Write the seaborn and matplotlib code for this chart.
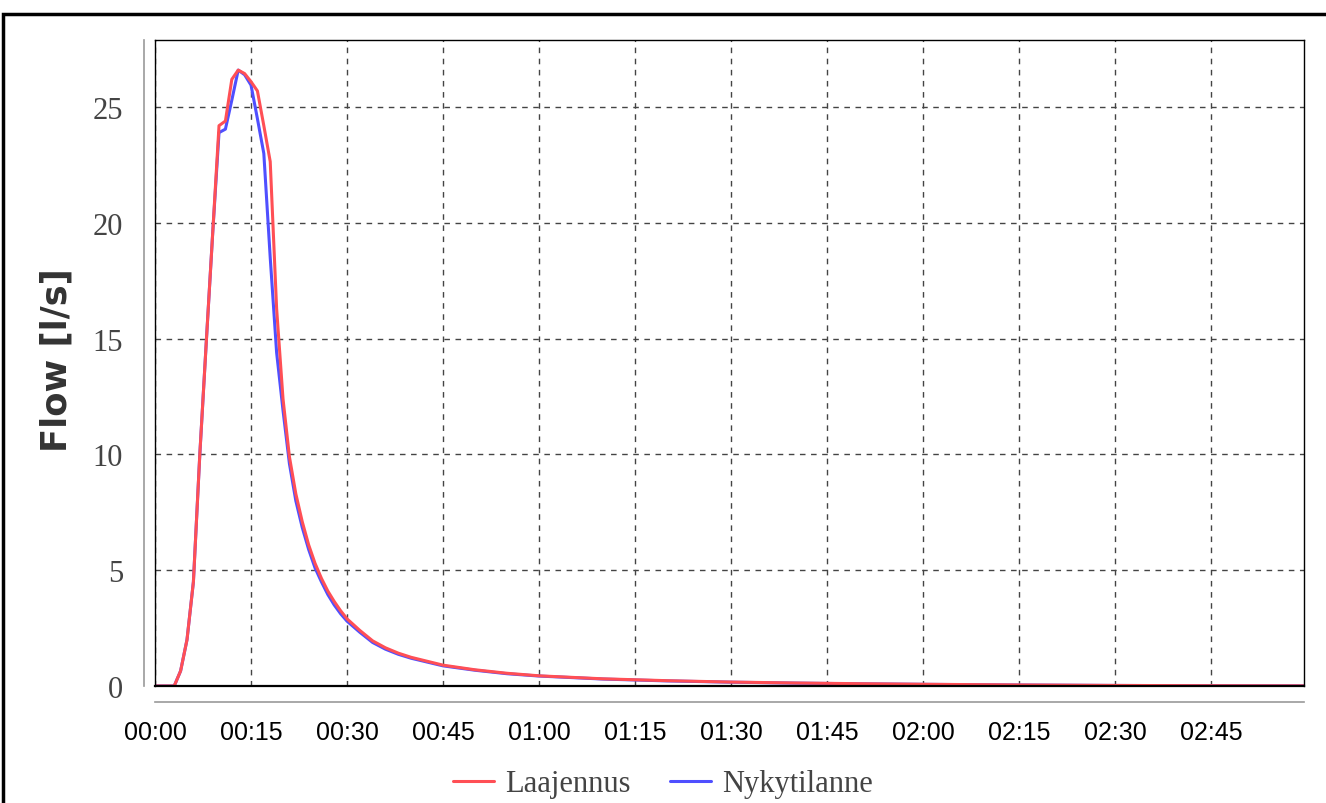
import matplotlib
matplotlib.use("Agg")
import matplotlib.pyplot as plt
from matplotlib.lines import Line2D
from matplotlib.patches import Rectangle
import pandas as pd
import seaborn as sns

# ---------------- DATOS ---------------- #
minutes = [0, 1, 2, 3, 4, 5, 6, 7, 8, 9, 10, 11, 12, 13, 14, 15, 16, 17, 18, 19,
           20, 21, 22, 23, 24, 25, 26, 27, 28, 29, 30, 32, 34, 36, 38, 40, 45, 50,
           55, 60, 70, 80, 90, 100, 110, 120, 135, 150, 165, 180]
laajennus = [0, 0, 0, 0, 0.65, 2.0, 4.5, 10.0, 14.8, 19.5, 24.2, 24.4, 26.2, 26.6,
             26.45, 26.1, 25.7, 24.2, 22.65, 16.3, 12.4, 9.9, 8.3, 7.1, 6.1, 5.3,
             4.65, 4.1, 3.65, 3.25, 2.9, 2.4, 1.95, 1.65, 1.42, 1.24, 0.9, 0.7,
             0.55, 0.44, 0.31, 0.23, 0.17, 0.13, 0.1, 0.075, 0.045, 0.025, 0.012, 0.005]
nykytilanne = [0, 0, 0, 0, 0.65, 2.0, 4.5, 10.0, 14.8, 19.5, 23.9, 24.05, 25.3, 26.6,
               26.4, 25.95, 24.5, 23.0, 18.5, 14.4, 11.9, 9.6, 8.0, 6.85, 5.9, 5.1,
               4.5, 3.95, 3.5, 3.12, 2.8, 2.32, 1.88, 1.59, 1.37, 1.2, 0.87, 0.68,
               0.53, 0.43, 0.3, 0.22, 0.165, 0.125, 0.095, 0.072, 0.043, 0.024, 0.011, 0.005]

x_ticks = [0, 15, 30, 45, 60, 75, 90, 105, 120, 135, 150, 165]
x_labels = ["00:00", "00:15", "00:30", "00:45", "01:00", "01:15", "01:30",
            "01:45", "02:00", "02:15", "02:30", "02:45"]
y_ticks = [0, 5, 10, 15, 20, 25]

series_names = ["Laajennus", "Nykytilanne"]
colors = {"Laajennus": "#ff4f55", "Nykytilanne": "#4f4fff"}

df = pd.concat([
    pd.DataFrame({"t": minutes, "flow": nykytilanne, "serie": "Nykytilanne"}),
    pd.DataFrame({"t": minutes, "flow": laajennus, "serie": "Laajennus"}),
])

# ---------------- FIGURA ---------------- #
sns.set_style("white")
fig = plt.figure(figsize=(13.26, 8.04), dpi=100)
pos = [155 / 1326, 1 - 687 / 804, (1304 - 155) / 1326, (687 - 41) / 804]
ax = fig.add_axes(pos)

sns.lineplot(data=df, x="t", y="flow", hue="serie", palette=colors,
             hue_order=["Nykytilanne", "Laajennus"], linewidth=2.2,
             ax=ax, legend=False, sort=False)

ax.set_xlim(0, 179.5)
ax.set_ylim(0, 27.9)
ax.set_xticks(x_ticks)
ax.set_yticks(y_ticks)
ax.grid(True, color="#444444", linestyle=(0, (4, 4)), linewidth=1.0)
ax.set_axisbelow(True)
for s in ax.spines.values():
    s.set_color("black")
    s.set_linewidth(1.0)
ax.spines["bottom"].set_linewidth(1.6)
ax.tick_params(left=False, bottom=False, labelleft=False, labelbottom=False)
ax.set_xlabel("")
ax.set_ylabel("")

# ejes separados en gris
ax2 = fig.add_axes(pos, sharex=ax, sharey=ax, facecolor="none")
ax2.grid(False)
for side in ["top", "right"]:
    ax2.spines[side].set_visible(False)
ax2.spines["left"].set_position(("outward", 8))
ax2.spines["bottom"].set_position(("outward", 11.5))
for side in ["left", "bottom"]:
    ax2.spines[side].set_color("#999999")
    ax2.spines[side].set_linewidth(1.2)
ax2.tick_params(axis="both", direction="out", length=5, width=1.2, color="#999999")
ax2.tick_params(axis="y", pad=10, labelsize=22, labelcolor="#444444")
ax2.tick_params(axis="x", pad=8, labelsize=18, labelcolor="black")
ax2.set_xticks(x_ticks)
ax2.set_xticklabels(x_labels, family="Liberation Sans")
ax2.set_yticks(y_ticks)
ax2.set_yticklabels([str(v) for v in y_ticks], family="Liberation Serif")

fig.text(57 / 1326, 1 - 360 / 804, "Flow [l/s]", rotation=90, ha="center",
         va="center", fontsize=25.5, fontweight="bold", family="DejaVu Sans",
         color="#333333")

handles = [Line2D([], [], color=colors[n], linewidth=2.2) for n in series_names]
fig.legend(handles, series_names, loc="center", bbox_to_anchor=(0.5, 1 - 785 / 804),
           ncol=2, frameon=False, handlelength=1.35, handletextpad=0.35,
           columnspacing=1.3, prop={"family": "Liberation Serif", "size": 22},
           labelcolor="#444444")

# marco exterior
fig.patches.append(Rectangle((2.5 / 1326, -0.05), 1.1, 1 - 15 / 804 + 0.05,
                             transform=fig.transFigure, fill=False,
                             edgecolor="black", linewidth=2.5))

fig.savefig("out.png", dpi=100)
